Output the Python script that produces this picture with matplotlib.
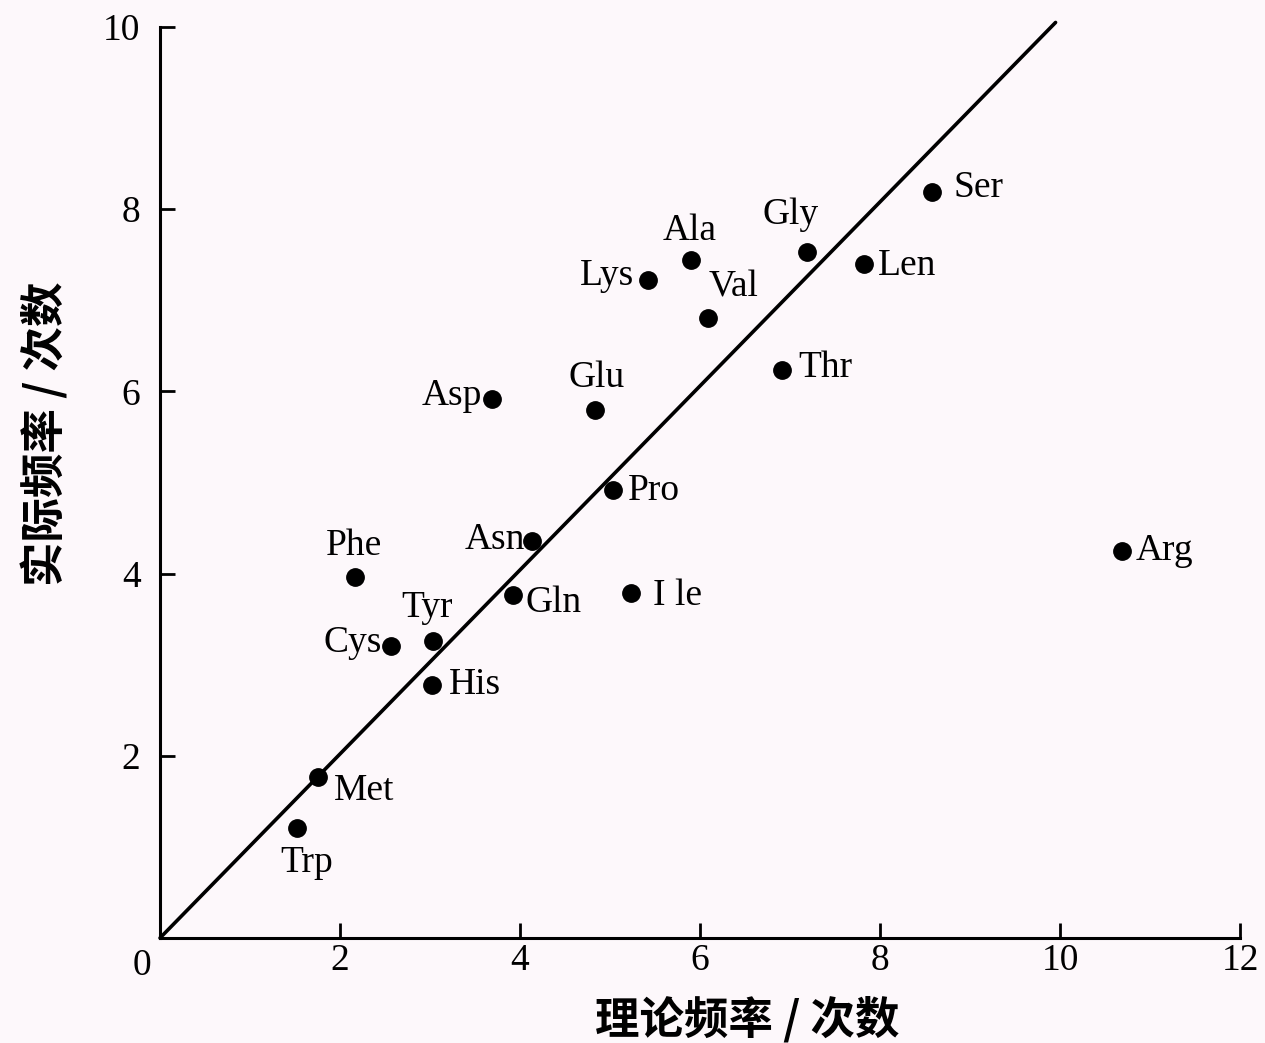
import matplotlib.pyplot as plt

# amino acids: theoretical vs observed frequency
names = ['Trp', 'Met', 'His', 'Cys', 'Tyr', 'Phe', 'Gln', 'Asn', 'I le', 'Pro',
         'Asp', 'Glu', 'Thr', 'Lys', 'Ala', 'Val', 'Gly', 'Len', 'Ser', 'Arg']
theory = [1.52, 1.76, 3.02, 2.57, 3.03, 2.17, 3.92, 4.13, 5.23, 5.03,
          3.69, 4.83, 6.91, 5.42, 5.90, 6.09, 7.19, 7.82, 8.58, 10.69]
actual = [1.21, 1.77, 2.78, 3.20, 3.26, 3.96, 3.76, 4.36, 3.79, 4.92,
          5.92, 5.80, 6.23, 7.22, 7.44, 6.81, 7.53, 7.40, 8.19, 4.25]

# label offsets in points and alignment
offsets = {
    'Trp': (7, -25, 'center'), 'Met': (11, -10, 'left'), 'His': (12, 0, 'left'),
    'Cys': (-7, 3, 'right'), 'Tyr': (-4, 24, 'center'), 'Phe': (-1, 23, 'center'),
    'Gln': (9, -5, 'left'), 'Asn': (-5, 1, 'right'), 'I le': (16, -2, 'left'),
    'Pro': (11, -1, 'left'), 'Asp': (-7, 2, 'right'), 'Glu': (1, 23, 'center'),
    'Thr': (12, 2, 'left'), 'Lys': (-10, 3, 'right'), 'Ala': (-1, 21, 'center'),
    'Val': (0, 22, 'left'), 'Gly': (-12, 27, 'center'), 'Len': (10, -1, 'left'),
    'Ser': (15, 3, 'left'), 'Arg': (10, 0, 'left'),
}

line_x = [0, 9.95]
line_y = [0, 10.05]

serif = 'Liberation Serif'
cjk = ['Noto Sans CJK SC', 'DejaVu Sans']
bg = '#fdf8fb'

fig = plt.figure(figsize=(12.65, 10.43), dpi=100, facecolor=bg)
ax = fig.add_axes([0.1265, 0.1007, 0.8538, 0.8734], facecolor=bg)

ax.plot(line_x, line_y, color='black', lw=2.6, solid_capstyle='round', clip_on=False)
ax.plot(theory, actual, 'o', color='black', markersize=12.5, clip_on=False)

for n, x, y in zip(names, theory, actual):
    dx, dy, ha = offsets[n]
    ax.annotate(n, (x, y), xytext=(dx, dy), textcoords='offset points',
                ha=ha, va='center', fontsize=27, family=serif)

ax.set_xlim(0, 12)
ax.set_ylim(0, 10)
ax.spines['top'].set_visible(False)
ax.spines['right'].set_visible(False)
for s in ('left', 'bottom'):
    ax.spines[s].set_linewidth(2.2)

ax.set_xticks([2, 4, 6, 8, 10, 12])
ax.set_yticks([2, 4, 6, 8, 10])
ax.tick_params(direction='in', length=11, width=2, labelsize=27)
ax.tick_params(axis='x', pad=4)
ax.tick_params(axis='y', pad=14)
for lab in ax.get_xticklabels() + ax.get_yticklabels():
    lab.set_family(serif)
ax.text(-0.1, -0.12, '0', ha='right', va='top', fontsize=27, family=serif)

ax.set_xlabel('理论频率 / 次数', family=cjk, fontsize=32, fontweight='bold', va='center')
ax.set_ylabel('实际频率 / 次数', family=cjk, fontsize=32, fontweight='bold', va='center')
ax.xaxis.set_label_coords(0.544, -0.09)
ax.yaxis.set_label_coords(-0.106, 0.553)

fig.savefig('out.png', dpi=100, facecolor=bg)
